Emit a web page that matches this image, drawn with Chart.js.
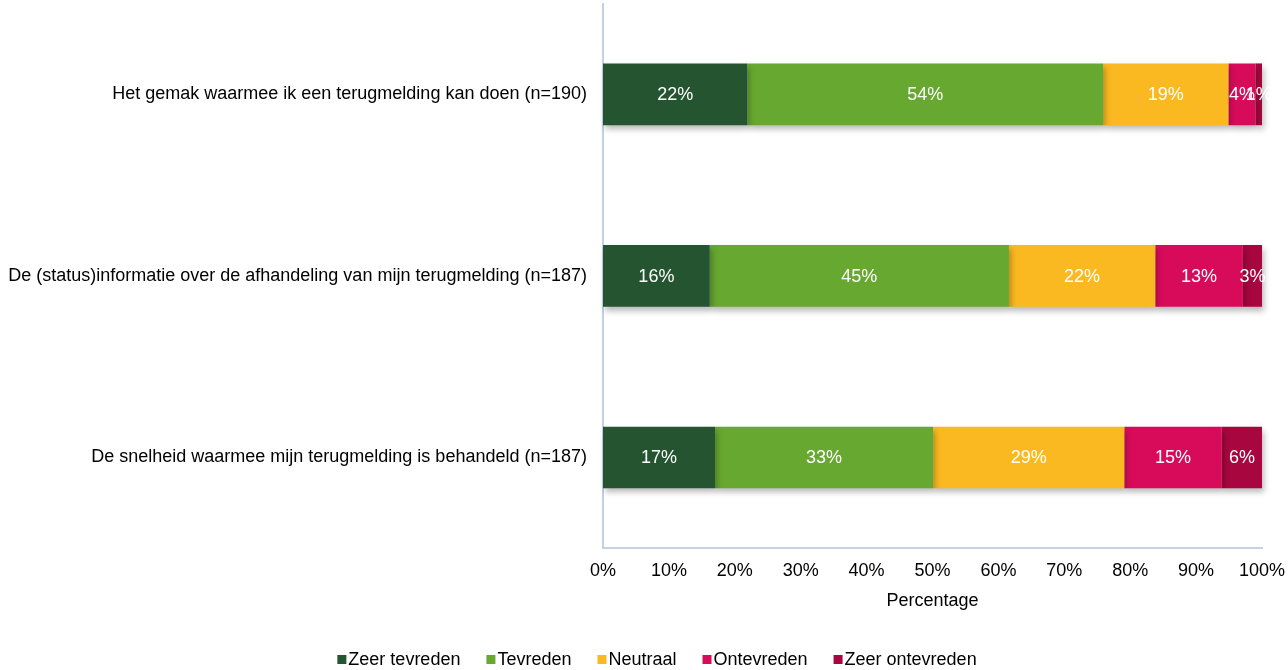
<!DOCTYPE html>
<html>
<head>
<meta charset="utf-8">
<script src="https://cdn.jsdelivr.net/npm/chart.js@4"></script>
<style>
html,body{margin:0;padding:0;background:#fff;}
#wrap{width:1288px;height:670px;}
</style>
</head>
<body>
<div id="wrap"><canvas id="c" width="1288" height="670"></canvas></div>
<script>
const categories = [
  "Het gemak waarmee ik een terugmelding kan doen (n=190)",
  "De (status)informatie over de afhandeling van mijn terugmelding (n=187)",
  "De snelheid waarmee mijn terugmelding is behandeld (n=187)"
];
const seriesNames = ["Zeer tevreden", "Tevreden", "Neutraal", "Ontevreden", "Zeer ontevreden"];
const zeerTevreden   = [21.9, 16.2, 17.0];
const tevreden       = [54.0, 45.4, 33.1];
const neutraal       = [19.0, 22.2, 29.0];
const ontevreden     = [4.1, 13.3, 14.8];
const zeerOntevreden = [1.0, 2.9, 6.1];
const xTicks = [0, 10, 20, 30, 40, 50, 60, 70, 80, 90, 100];
const colors = ["#245530", "#67a830", "#fbb921", "#d80b5a", "#a8063f"];

const seriesValues = [zeerTevreden, tevreden, neutraal, ontevreden, zeerOntevreden];
const FONT = "'Liberation Sans', Arial, sans-serif";
const FS = 18;

const datasets = seriesNames.map((name, i) => ({
  label: name,
  data: seriesValues[i],
  backgroundColor: colors[i],
  borderWidth: 0,
  categoryPercentage: 1,
  barPercentage: 0.34,
  clip: false
}));

const shadowAndLabels = {
  id: 'shadowAndLabels',
  beforeDatasetsDraw(chart) {
    const ctx = chart.ctx;
    ctx.save();
    ctx.shadowColor = 'rgba(0,0,0,0.28)';
    ctx.shadowBlur = 6;
    ctx.shadowOffsetX = 2;
    ctx.shadowOffsetY = 4;
  },
  afterDatasetsDraw(chart) {
    const ctx = chart.ctx;
    ctx.restore();
    ctx.save();
    ctx.font = FS + "px " + FONT;
    ctx.fillStyle = '#ffffff';
    ctx.textAlign = 'center';
    ctx.textBaseline = 'middle';
    chart.data.datasets.forEach((ds, di) => {
      const meta = chart.getDatasetMeta(di);
      meta.data.forEach((el, i) => {
        const v = ds.data[i];
        const cx = (el.x + el.base) / 2;
        ctx.fillText(Math.round(v) + '%', cx, el.y + 1);
      });
    });
    ctx.restore();
  }
};

const customLegend = {
  id: 'customLegend',
  afterDraw(chart) {
    const ctx = chart.ctx;
    ctx.save();
    ctx.font = FS + "px " + FONT;
    const box = 9, gap = 2, spacing = 26;
    const items = chart.data.datasets.map(ds => ({label: ds.label, color: ds.backgroundColor, w: ctx.measureText(ds.label).width}));
    let total = 0;
    items.forEach((it, i) => { total += box + gap + it.w + (i < items.length - 1 ? spacing : 0); });
    let x = chart.width / 2 + 13 - total / 2;
    const y = 659.5;
    ctx.textBaseline = 'middle';
    ctx.textAlign = 'left';
    items.forEach(it => {
      ctx.fillStyle = it.color;
      ctx.fillRect(x, y - box / 2, box, box);
      ctx.fillStyle = '#000';
      ctx.fillText(it.label, x + box + gap, y + 1);
      x += box + gap + it.w + spacing;
    });
    ctx.restore();
  }
};

new Chart(document.getElementById('c'), {
  type: 'bar',
  data: { labels: categories, datasets },
  options: {
    indexAxis: 'y',
    responsive: false,
    animation: false,
    layout: { padding: { top: 3.5, right: 26, bottom: 54, left: 0 } },
    plugins: {
      legend: { display: false },
      tooltip: { enabled: false }
    },
    scales: {
      x: {
        stacked: true,
        min: 0,
        max: 100,
        afterBuildTicks(scale) { scale.ticks = xTicks.map(v => ({ value: v })); },
        grid: { display: false, drawTicks: false },
        border: { display: true, color: '#c3d1e2', width: 2 },
        ticks: {
          padding: 12,
          color: '#000',
          font: { family: FONT, size: FS },
          maxRotation: 0,
          autoSkip: false,
          callback: v => v + '%'
        },
        title: {
          display: true,
          text: 'Percentage',
          color: '#000',
          font: { family: FONT, size: FS },
          padding: { top: -3.5, bottom: 4 }
        },
        afterFit(scale) { scale.paddingLeft = 0; scale.paddingRight = 0; }
      },
      y: {
        stacked: true,
        grid: { display: false, drawTicks: false },
        border: { display: true, color: '#c3d1e2', width: 2 },
        ticks: {
          padding: 16,
          color: '#000',
          font: { family: FONT, size: FS }
        },
        afterFit(scale) { scale.width = 603; scale.paddingTop = 0; scale.paddingBottom = 0; }
      }
    }
  },
  plugins: [shadowAndLabels, customLegend]
});
</script>
</body>
</html>
